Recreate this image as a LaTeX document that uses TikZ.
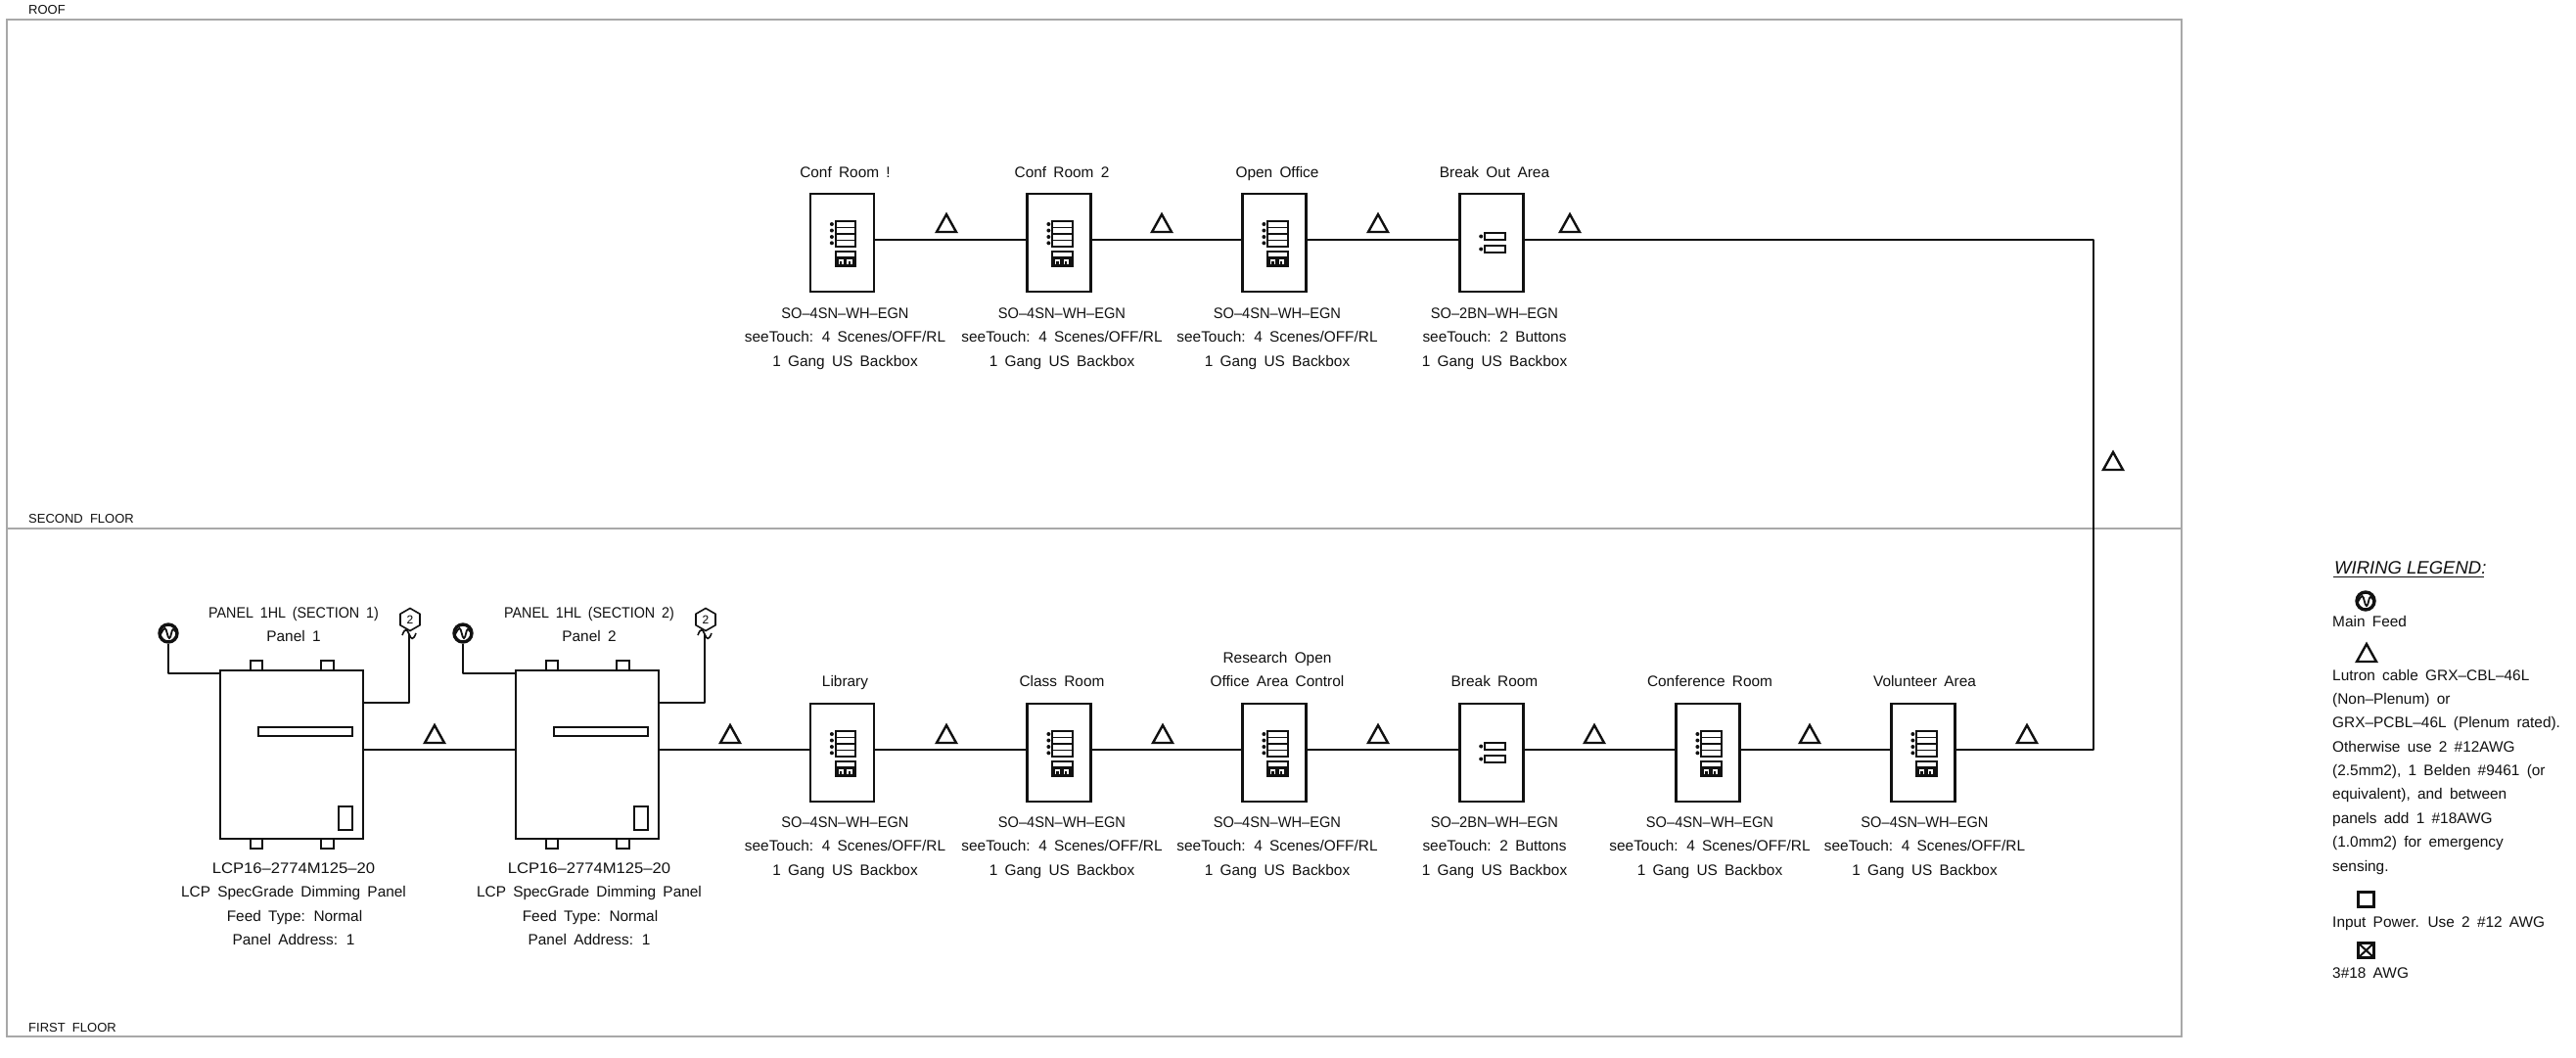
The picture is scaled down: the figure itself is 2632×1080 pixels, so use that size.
\documentclass[tikz,border=0pt]{standalone}
\usepackage{fontspec}
\setmainfont{Liberation Sans}[WordSpace=1.7]
\newfontfamily\legfont{Liberation Sans}
\newfontfamily\sofont{Liberation Sans}[WordSpace=1.7,FakeStretch=0.95]
\newfontfamily\pnlfont{Liberation Sans}[WordSpace=1.7,FakeStretch=0.93]
\newfontfamily\lcpfont{Liberation Sans}[WordSpace=1.7,FakeStretch=1.08]
\usetikzlibrary{shapes.geometric}
\definecolor{ink}{HTML}{111111}
\definecolor{frame}{HTML}{A8A8A8}
\tikzset{
  wire/.style={draw=ink,line width=2.2pt,line join=round},
  devbox/.style={draw=ink,line width=2.4pt,rectangle,minimum width=65pt,minimum height=100pt,inner sep=0pt},
  panelbox/.style={draw=ink,line width=2.4pt,rectangle,minimum width=146pt,minimum height=172pt,inner sep=0pt},
  txt/.style={anchor=base,inner sep=0pt,font=\fontsize{15.4}{18}\selectfont,text=ink},
  ltxt/.style={anchor=base west,inner sep=0pt,font=\fontsize{15.4}{18}\selectfont,text=ink},
  floor/.style={anchor=base west,inner sep=0pt,font=\legfont\fontsize{13}{15}\selectfont,text=ink},
  feedsym/.style={circle,draw=ink,line width=3.4pt,minimum size=18pt,inner sep=0pt},
  hexsym/.style={regular polygon,regular polygon sides=6,shape border rotate=30,draw=ink,line width=1.6pt,minimum size=23pt,inner sep=0pt,font=\fontsize{12}{12}\selectfont},
  part/.style={draw=ink,line width=2pt},
  tri/.style={draw=ink,line width=2.4pt,line join=miter},
}
\newcommand\tlab[4]{\node[txt] (#1) at (#2,{#3+4.5}) {#4};}
\newcommand\dlab[4]{\node[txt] (#1) at ({#2+3},{#3+4.5}) {#4};}
\newcommand\llab[4]{\node[ltxt] (#1) at (#2,{#3+4.5}) {#4};}
\newcommand\wtri[2]{\draw[tri] ({#1-10},{#2}) -- ({#1},{#2-18}) -- ({#1+10},{#2}) -- cycle;}
\newcommand\fourkey[2]{\begin{scope}[shift={(#1,#2)}]
  \draw[part] (-7,-19) rectangle (13.5,7);
  \foreach \yy in {-12.5,-6,0.5}{\draw[line width=1.6pt,ink] (-7,\yy) -- (13.5,\yy);}
  \foreach \yy in {-16,-9.5,-3,3.3}{\fill[ink] (-10.6,\yy) circle (2pt);}
  \fill[ink] (-7.8,16.5) rectangle (14.3,27.8);
  \draw[part] (-7,12) rectangle (13.5,27);
  \fill[white] (-4,20) rectangle (1,25);
  \fill[white] (4.5,20) rectangle (10,25);
  \fill[ink] (-2.6,22) rectangle (-0.2,25);
  \fill[ink] (6,22) rectangle (8.4,25);
\end{scope}}
\newcommand\twokey[2]{\begin{scope}[shift={(#1,#2)}]
  \draw[part] (-7,-7) rectangle (13.5,0);
  \draw[part] (-7,6) rectangle (13.5,13);
  \fill[ink] (-10.8,-3.5) circle (2pt);
  \fill[ink] (-10.8,9.5) circle (2pt);
\end{scope}}
\newcommand\wave[2]{\draw[line width=1.6pt,ink] ({#1-7},{#2+1}) .. controls ({#1-4},{#2-7}) and ({#1-2},{#2-5}) .. (#1,#2) .. controls ({#1+2},{#2+5}) and ({#1+4},{#2+7}) .. ({#1+7},{#2-1});}
\newcommand\panelparts[1]{\begin{scope}[shift={(#1,0)}]
  \draw[part] (256,685) -- (256,675) -- (268,675) -- (268,685);
  \draw[part] (328,685) -- (328,675) -- (341,675) -- (341,685);
  \draw[part] (256,857) -- (256,866.5) -- (268,866.5) -- (268,857);
  \draw[part] (328,857) -- (328,866.5) -- (341,866.5) -- (341,857);
  \draw[part] (264,743) rectangle (360,752);
  \draw[part] (346,823.5) rectangle (360,848);
\end{scope}}
\begin{document}
\begin{tikzpicture}[x=1pt,y=-1pt]
\useasboundingbox (0,0) rectangle (2632,1080);
\fill[white] (0,0) rectangle (2632,1080);
% floors
\draw[frame,line width=1.4pt] (7,20) rectangle (2229,1059);
\draw[frame,line width=1.4pt] (7,540) -- (2229,540);
\node[floor] (froof) at (29,14) {ROOF};
\node[floor] (fsecond) at (29,534) {SECOND\ \ FLOOR};
\node[floor] (ffirst) at (29,1054) {FIRST\ \ FLOOR};
% top row devices
\node[devbox] (t1) at (860.5,248) {};
\node[devbox] (t2) at (1082,248) {};
\node[devbox] (t3) at (1302,248) {};
\node[devbox] (t4) at (1524,248) {};
% bottom row devices
\node[devbox] (b1) at (860.5,769) {};
\node[devbox] (b2) at (1082,769) {};
\node[devbox] (b3) at (1302,769) {};
\node[devbox] (b4) at (1524,769) {};
\node[devbox] (b5) at (1745,769) {};
\node[devbox] (b6) at (1965,769) {};
% panels
\node[panelbox] (p1) at (298,771) {};
\node[panelbox] (p2) at (600,771) {};
\panelparts{0}
\panelparts{302}
% symbols above panels
\node[feedsym] (f1) at (172,647) {};
\node[feedsym] (f2) at (473,647) {};
\node[hexsym] (h1) at (419,633) {2};
\node[hexsym] (h2) at (721,633) {2};
\foreach \fx/\fy in {172/647,473/647,2417/614}{
  \draw[line width=1.8pt,ink] ({\fx-8},{\fy+1}) .. controls ({\fx-6},{\fy-2}) and ({\fx-5},{\fy-5}) .. ({\fx-3.5},{\fy-5}) .. controls ({\fx-1.5},{\fy-5}) and ({\fx-1},{\fy+5}) .. ({\fx+1},{\fy+5}) .. controls ({\fx+3},{\fy+5}) and ({\fx+3},{\fy-4}) .. ({\fx+5},{\fy-4}) .. controls ({\fx+6},{\fy-4}) and ({\fx+7},{\fy-2}) .. ({\fx+8},{\fy-1});
}
\wave{418}{648}
\wave{720}{648}
% named wire ends
\coordinate (c1) at (2139,245);
\coordinate (c2) at (2139,766);
\coordinate (p1f) at (225,688);
\coordinate (p2f) at (527,688);
\coordinate (p1h) at (371,718);
\coordinate (p2h) at (673,718);
\coordinate (h1w) at (418,648);
\coordinate (h2w) at (720,648);
\coordinate (t1r) at (893,245);
\coordinate (t2l) at (1050,245);
\coordinate (t2r) at (1114,245);
\coordinate (t3l) at (1270,245);
\coordinate (t3r) at (1334,245);
\coordinate (t4l) at (1492,245);
\coordinate (t4r) at (1556,245);
\coordinate (p1r) at (371,766);
\coordinate (p2l) at (527,766);
\coordinate (p2r) at (673,766);
\coordinate (b1l) at (828,766);
\coordinate (b1r) at (893,766);
\coordinate (b2l) at (1050,766);
\coordinate (b2r) at (1114,766);
\coordinate (b3l) at (1270,766);
\coordinate (b3r) at (1334,766);
\coordinate (b4l) at (1492,766);
\coordinate (b4r) at (1556,766);
\coordinate (b5l) at (1713,766);
\coordinate (b5r) at (1777,766);
\coordinate (b6l) at (1933,766);
\coordinate (b6r) at (1997,766);
% connectors
\draw[wire] (t1r) -- (t2l);
\draw[wire] (t2r) -- (t3l);
\draw[wire] (t3r) -- (t4l);
\draw[wire] (t4r) -- (c1) -- (c2) -- (b6r);
\draw[wire] (b6l) -- (b5r);
\draw[wire] (b5l) -- (b4r);
\draw[wire] (b4l) -- (b3r);
\draw[wire] (b3l) -- (b2r);
\draw[wire] (b2l) -- (b1r);
\draw[wire] (b1l) -- (p2r);
\draw[wire] (p2l) -- (p1r);
\draw[wire] (f1) |- (p1f);
\draw[wire] (f2) |- (p2f);
\draw[wire] (p1h) -| (h1w);
\draw[wire] (p2h) -| (h2w);
% icons
\foreach \xx in {860.5,1082,1302}{\fourkey{\xx}{245}}
\twokey{1524}{245}
\foreach \xx in {860.5,1082,1302,1745,1965}{\fourkey{\xx}{766}}
\twokey{1524}{766}
% triangles
\foreach \xx in {967,1187,1408,1604}{\wtri{\xx}{237}}
\wtri{2159}{480}
\foreach \xx in {444,746,967,1188,1408,1629,1849,2071}{\wtri{\xx}{759}}
% top labels
\dlab{l1a}{860.5}{177}{Conf Room !}
\dlab{l1b}{860.5}{321}{\sofont SO–4SN–WH–EGN}
\dlab{l1c}{860.5}{345}{seeTouch: 4 Scenes/OFF/RL}
\dlab{l1d}{860.5}{370}{1 Gang US Backbox}
\dlab{l2a}{1082}{177}{Conf Room 2}
\dlab{l2b}{1082}{321}{\sofont SO–4SN–WH–EGN}
\dlab{l2c}{1082}{345}{seeTouch: 4 Scenes/OFF/RL}
\dlab{l2d}{1082}{370}{1 Gang US Backbox}
\dlab{l3a}{1302}{177}{Open Office}
\dlab{l3b}{1302}{321}{\sofont SO–4SN–WH–EGN}
\dlab{l3c}{1302}{345}{seeTouch: 4 Scenes/OFF/RL}
\dlab{l3d}{1302}{370}{1 Gang US Backbox}
\dlab{l4a}{1524}{177}{Break Out Area}
\dlab{l4b}{1524}{321}{\sofont SO–2BN–WH–EGN}
\dlab{l4c}{1524}{345}{seeTouch: 2 Buttons}
\dlab{l4d}{1524}{370}{1 Gang US Backbox}
% bottom labels
\dlab{m1a}{860.5}{697}{Library}
\dlab{m1b}{860.5}{841}{\sofont SO–4SN–WH–EGN}
\dlab{m1c}{860.5}{865}{seeTouch: 4 Scenes/OFF/RL}
\dlab{m1d}{860.5}{890}{1 Gang US Backbox}
\dlab{m2a}{1082}{697}{Class Room}
\dlab{m2b}{1082}{841}{\sofont SO–4SN–WH–EGN}
\dlab{m2c}{1082}{865}{seeTouch: 4 Scenes/OFF/RL}
\dlab{m2d}{1082}{890}{1 Gang US Backbox}
\dlab{m3z}{1302}{673}{Research Open}
\dlab{m3a}{1302}{697}{Office Area Control}
\dlab{m3b}{1302}{841}{\sofont SO–4SN–WH–EGN}
\dlab{m3c}{1302}{865}{seeTouch: 4 Scenes/OFF/RL}
\dlab{m3d}{1302}{890}{1 Gang US Backbox}
\dlab{m4a}{1524}{697}{Break Room}
\dlab{m4b}{1524}{841}{\sofont SO–2BN–WH–EGN}
\dlab{m4c}{1524}{865}{seeTouch: 2 Buttons}
\dlab{m4d}{1524}{890}{1 Gang US Backbox}
\dlab{m5a}{1744}{697}{Conference Room}
\dlab{m5b}{1744}{841}{\sofont SO–4SN–WH–EGN}
\dlab{m5c}{1744}{865}{seeTouch: 4 Scenes/OFF/RL}
\dlab{m5d}{1744}{890}{1 Gang US Backbox}
\dlab{m6a}{1963.5}{697}{Volunteer Area}
\dlab{m6b}{1963.5}{841}{\sofont SO–4SN–WH–EGN}
\dlab{m6c}{1963.5}{865}{seeTouch: 4 Scenes/OFF/RL}
\dlab{m6d}{1963.5}{890}{1 Gang US Backbox}
% panel labels
\tlab{q1a}{300}{627}{\pnlfont PANEL 1HL (SECTION 1)}
\tlab{q1b}{300}{651}{Panel 1}
\tlab{q1c}{300}{888}{\lcpfont LCP16–2774M125–20}
\tlab{q1d}{300}{912}{LCP SpecGrade Dimming Panel}
\tlab{q1e}{301}{937}{Feed Type: Normal}
\tlab{q1f}{300}{961}{Panel Address: 1}
\tlab{q2a}{602}{627}{\pnlfont PANEL 1HL (SECTION 2)}
\tlab{q2b}{602}{651}{Panel 2}
\tlab{q2c}{602}{888}{\lcpfont LCP16–2774M125–20}
\tlab{q2d}{602}{912}{LCP SpecGrade Dimming Panel}
\tlab{q2e}{603}{937}{Feed Type: Normal}
\tlab{q2f}{602}{961}{Panel Address: 1}
% legend
\node[anchor=base west,inner sep=0pt,font=\legfont\itshape\fontsize{18.5}{20}\selectfont,text=ink] (legtitle) at (2385,586) {WIRING LEGEND:};
\draw[ink,line width=1.4pt] (2384,589.5) -- (2538,589.5);
\node[feedsym] (f3) at (2417,614) {};
\llab{g1}{2383}{636}{Main Feed}
\wtri{2418}{676}
\llab{g2}{2383}{691}{Lutron cable GRX–CBL–46L}
\llab{g3}{2383}{715}{(Non–Plenum) or}
\llab{g4}{2383}{739}{GRX–PCBL–46L (Plenum rated).}
\llab{g5}{2383}{764}{Otherwise use 2 \#12AWG}
\llab{g6}{2383}{788}{(2.5mm2), 1 Belden \#9461 (or}
\llab{g7}{2383}{812}{equivalent), and between}
\llab{g8}{2383}{837}{panels add 1 \#18AWG}
\llab{g9}{2383}{861}{(1.0mm2) for emergency}
\llab{g10}{2383}{886}{sensing.}
\draw[ink,line width=2.4pt] (2409.5,911.5) rectangle (2425.5,926.5);
\llab{g11}{2383}{943}{Input Power. Use 2 \#12 AWG}
\draw[ink,line width=2.4pt] (2409.5,963.5) rectangle (2425.5,978.5);
\draw[ink,line width=2pt] (2409.5,963.5) -- (2425.5,978.5);
\draw[ink,line width=2pt] (2409.5,978.5) -- (2425.5,963.5);
\llab{g12}{2383}{995}{3\#18 AWG}
\end{tikzpicture}
\end{document}
